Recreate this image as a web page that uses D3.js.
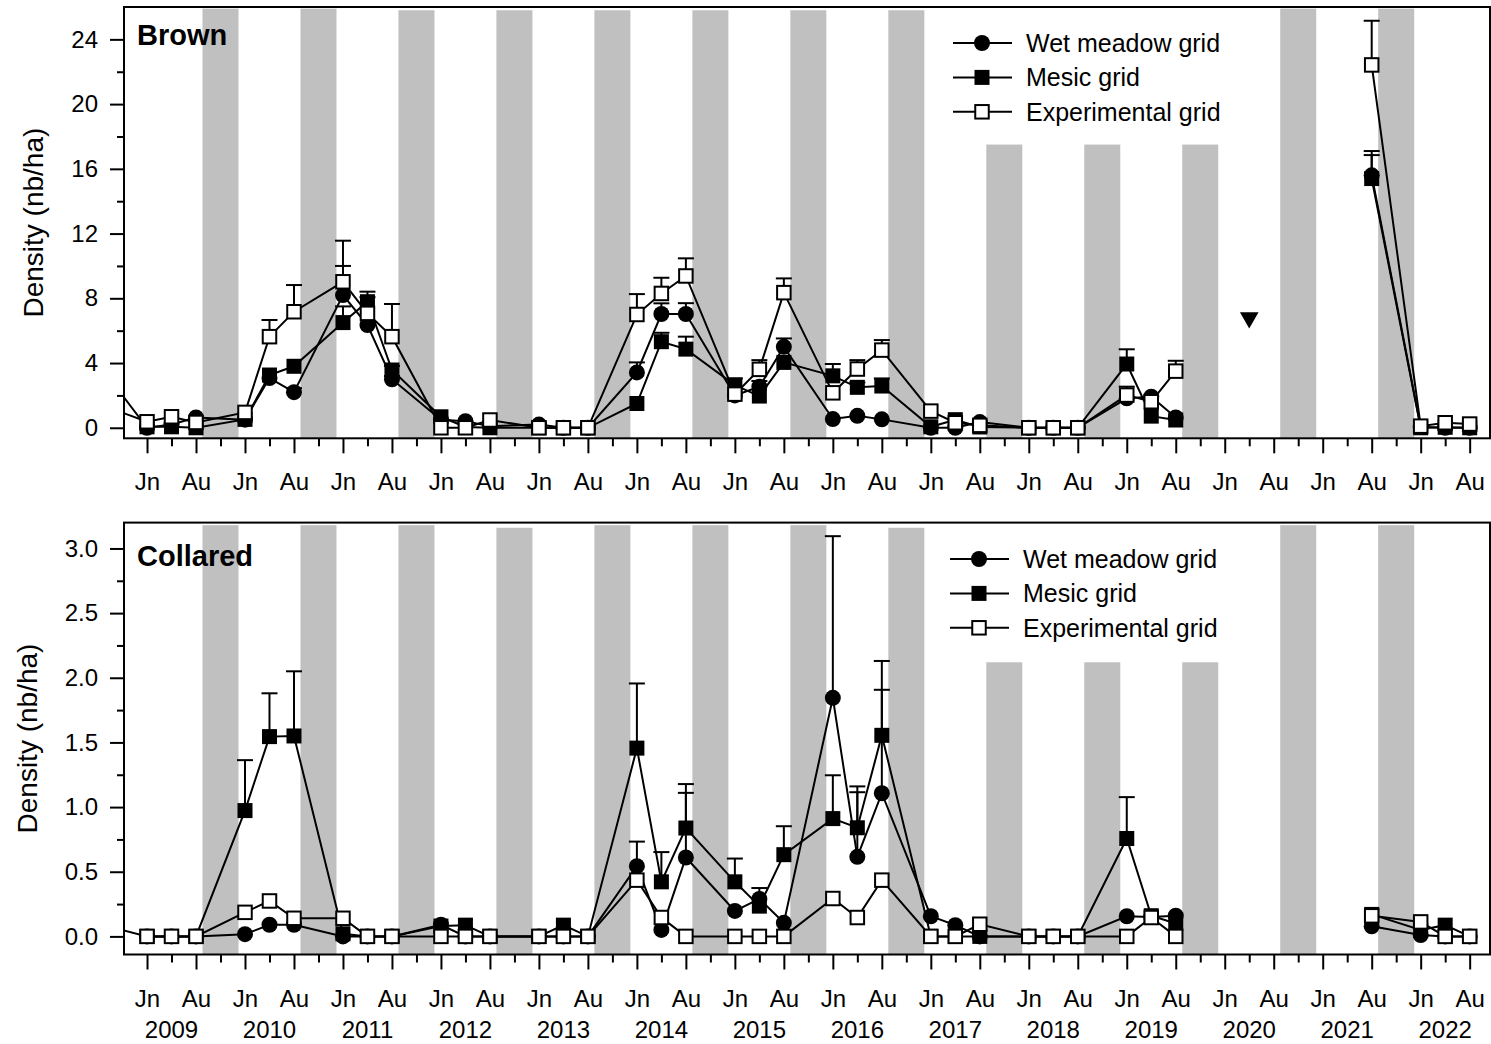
<!DOCTYPE html>
<html>
<head>
<meta charset="utf-8">
<script src="https://cdn.jsdelivr.net/npm/d3@7"></script>
<style>
body { margin: 0; background: #fff; }
text { font-family: "Liberation Sans", Arial, sans-serif; }
</style>
</head>
<body>
<svg id="chart" width="1491" height="1044"></svg>
<script>
// sampling sessions, year + month code (Jn, Jl, Au, W = winter)
var monthCodes = ["Jn", "Jl", "Au", "W"];
var years = d3.range(2009, 2023);
var sessions = [
    "2008-W",
    "2009-Jn", "2009-Jl", "2009-Au",
    "2010-Jn", "2010-Jl", "2010-Au",
    "2011-Jn", "2011-Jl", "2011-Au",
    "2012-Jn", "2012-Jl", "2012-Au",
    "2013-Jn", "2013-Jl", "2013-Au",
    "2014-Jn", "2014-Jl", "2014-Au",
    "2015-Jn", "2015-Jl", "2015-Au",
    "2016-Jn", "2016-Jl", "2016-Au",
    "2017-Jn", "2017-Jl", "2017-Au",
    "2018-Jn", "2018-Jl", "2018-Au",
    "2019-Jn", "2019-Jl", "2019-Au",
    "2020-Jl",
    "2021-Au",
    "2022-Jn", "2022-Jl", "2022-Au"
];
var seriesNames = ["Wet meadow grid", "Mesic grid", "Experimental grid"];
var seriesMarks = ["circle", "filled", "open"];

// winters shown as grey bars (winter after the given summer)
var bandWinters = d3.range(2009, 2022);
var brownBandTops = [25.9, 25.9, 25.8, 25.8, 25.8, 25.8, 25.8, 25.8, 17.5, 17.5, 17.5, 25.9, 25.9];
var collaredBandTops = [3.18, 3.18, 3.18, 3.16, 3.18, 3.18, 3.18, 3.16, 2.12, 2.12, 2.12, 3.18, 3.18];

// Brown lemming density (nb/ha)
var brownWet = [2.0,
    0.0, 0.2, 0.64,   0.5, 3.07, 2.2,   8.2, 6.35, 3.0,   0.5, 0.41, 0.1,
    0.2, 0.0, 0.0,    3.42, 7.03, 7.03, 2.0, 2.54, 5.0,   0.54, 0.74, 0.52,
    0.0, 0.0, 0.35,   0.0, 0.0, 0.0,    1.82, 1.92, 0.64,
    null, 15.6,       0.05, 0.0, 0.0];
var brownMesic = [null,
    0.06, 0.06, 0.0,  0.52, 3.26, 3.8,  6.5, 7.79, 3.57,  0.68, 0.05, 0.0,
    0.0, 0.0, 0.0,    1.5, 5.32, 4.86,  2.64, 1.96, 4.04, 3.21, 2.5, 2.58,
    0.06, 0.5, 0.05,  0.0, 0.0, 0.0,    3.94, 0.72, 0.48,
    null, 15.4,       0.0, 0.03, 0.0];
var brownExp = [0.93,
    0.37, 0.68, 0.33, 0.95, 5.63, 7.17, 9.02, 7.07, 5.63, 0.0, 0.0, 0.48,
    0.0, 0.0, 0.0,    7.0, 8.3, 9.38,   2.08, 3.61, 8.35, 2.16, 3.63, 4.8,
    1.03, 0.31, 0.15, 0.0, 0.0, 0.0,    2.02, 1.61, 3.5,
    null, 22.42,      0.1, 0.31, 0.23];
var brownWetSE = [["2010-Au", 0.25], ["2011-Jn", 1.8], ["2011-Au", 0.2], ["2014-Jn", 0.62],
    ["2014-Jl", 0.66], ["2014-Au", 0.67], ["2015-Jl", 0.35], ["2015-Au", 0.52], ["2021-Au", 1.5]];
var brownMesicSE = [["2011-Jn", 1.0], ["2011-Jl", 0.62], ["2011-Au", 0.25], ["2014-Jl", 0.55],
    ["2014-Au", 0.77], ["2015-Jn", 0.41], ["2016-Jn", 0.73], ["2016-Jl", 0.3], ["2016-Au", 0.47],
    ["2019-Jn", 0.91], ["2021-Au", 1.45]];
var brownExpSE = [["2010-Jl", 1.03], ["2010-Au", 1.65], ["2011-Jn", 2.54], ["2011-Jl", 1.0],
    ["2011-Au", 2.02], ["2014-Jn", 1.26], ["2014-Jl", 0.97], ["2014-Au", 1.09], ["2015-Jl", 0.57],
    ["2015-Au", 0.88], ["2016-Jl", 0.55], ["2016-Au", 0.62], ["2019-Jn", 0.52], ["2019-Au", 0.64],
    ["2021-Au", 2.73]];
var brownNoteSession = "2020-Jl", brownNoteValue = 6.8;

// Collared lemming density (nb/ha)
var collaredWet = [0.048,
    0, 0, 0,          0.017, 0.09, 0.09, 0.0, 0, 0,      0.09, 0.0, 0,
    0, 0, 0,          0.543, 0.05, 0.61, 0.197, 0.29, 0.105, 1.845, 0.615, 1.107,
    0.156, 0.087, 0.0, 0, 0, 0,         0.156, 0.15, 0.16,
    null, 0.078,      0.01, 0.0, 0.0];
var collaredMesic = [null,
    0, 0, 0,          0.973, 1.545, 1.55, 0.02, 0, 0,    0.08, 0.087, 0,
    0, 0.087, 0,      1.456, 0.422, 0.838, 0.422, 0.234, 0.632, 0.911, 0.84, 1.555,
    0, 0, 0,          0, 0, 0,          0.757, 0.16, 0.1,
    null, 0.17,       0.05, 0.087, 0];
var collaredExp = [null,
    0, 0, 0,          0.186, 0.274, 0.14, 0.14, 0, 0,    0, 0, 0,
    0, 0, 0,          0.435, 0.146, 0,  0, 0, 0,         0.293, 0.146, 0.435,
    0, 0, 0.094,      0, 0, 0,          0, 0.146, 0,
    null, 0.159,      0.112, 0, 0];
var collaredWetSE = [["2014-Jn", 0.19], ["2014-Au", 0.5], ["2016-Jn", 1.25], ["2016-Jl", 0.5], ["2016-Au", 0.8]];
var collaredMesicSE = [["2010-Jn", 0.39], ["2010-Jl", 0.335], ["2010-Au", 0.5], ["2014-Jn", 0.5],
    ["2014-Jl", 0.23], ["2014-Au", 0.34], ["2015-Jn", 0.18], ["2015-Jl", 0.14], ["2015-Au", 0.22],
    ["2016-Jn", 0.335], ["2016-Jl", 0.32], ["2016-Au", 0.575], ["2019-Jn", 0.32]];
var collaredExpSE = [];

var brownTicks = [0, 4, 8, 12, 16, 20, 24];
var brownMinor = [2, 6, 10, 14, 18, 22];
var collaredTicks = [0, 0.5, 1.0, 1.5, 2.0, 2.5, 3.0];
var collaredMinor = [0.25, 0.75, 1.25, 1.75, 2.25, 2.75];

function slotOf(code) {
    /* Position of a session on the x axis: 4 slots per year. */
    var p = code.split("-");
    return (+p[0] - 2009) * 4 + monthCodes.indexOf(p[1]);
}

var svg = d3.select("#chart");
var x = d3.scaleLinear().domain([-0.94, 54.83]).range([124, 1490]);
var left = 124, right = 1490;

function drawMarker(sel, kind) {
    if (kind === "circle") {
        sel.append("circle").attr("r", 8).attr("fill", "#000");
    } else if (kind === "filled") {
        sel.append("rect").attr("x", -7.5).attr("y", -7.5).attr("width", 15).attr("height", 15).attr("fill", "#000");
    } else {
        sel.append("rect").attr("x", -6.75).attr("y", -6.75).attr("width", 13.5).attr("height", 13.5)
            .attr("fill", "#fff").attr("stroke", "#000").attr("stroke-width", 2);
    }
}

function drawPanel(p) {
    var y = d3.scaleLinear().domain(p.yDomain).range([p.bottom, p.top]);
    var g = svg.append("g");

    g.append("clipPath").attr("id", "clip-" + p.id)
        .append("rect").attr("x", left).attr("y", p.top).attr("width", right - left).attr("height", p.bottom - p.top);

    // winter bars
    g.selectAll(".band").data(p.bandTops).enter()
        .append("rect")
        .attr("class", "band")
        .attr("x", function(d, i) { return x((bandWinters[i] - 2009) * 4 + 3 - 0.735); })
        .attr("width", function(d, i) { var s = (bandWinters[i] - 2009) * 4 + 3; return x(s + 0.735) - x(s - 0.735); })
        .attr("y", function(d) { return y(d); })
        .attr("height", function(d) { return p.bottom - y(d); })
        .attr("fill", "#c0c0c0");

    var allPts = p.values.map(function(vals) {
        return sessions.map(function(c, i) { return {code: c, s: slotOf(c), v: vals[i]}; });
    });

    var line = d3.line()
        .defined(function(d) { return d.v !== null; })
        .x(function(d) { return x(d.s); })
        .y(function(d) { return y(d.v); });

    allPts.forEach(function(pts) {
        g.append("path").datum(pts)
            .attr("d", line)
            .attr("fill", "none")
            .attr("stroke", "#000")
            .attr("stroke-width", 2)
            .attr("clip-path", "url(#clip-" + p.id + ")");
    });

    allPts.forEach(function(pts, k) {
        var valueOf = {};
        pts.forEach(function(d) { valueOf[d.code] = d.v; });
        var errs = p.se[k].map(function(e) { return {s: slotOf(e[0]), v: valueOf[e[0]], top: valueOf[e[0]] + e[1]}; });
        var eg = g.selectAll(".err" + k).data(errs).enter().append("g").attr("class", "err" + k);
        eg.append("line")
            .attr("x1", function(d) { return x(d.s); }).attr("x2", function(d) { return x(d.s); })
            .attr("y1", function(d) { return y(d.v); }).attr("y2", function(d) { return y(d.top); })
            .attr("stroke", "#000").attr("stroke-width", 2);
        eg.append("line")
            .attr("x1", function(d) { return x(d.s) - 8; }).attr("x2", function(d) { return x(d.s) + 8; })
            .attr("y1", function(d) { return y(d.top); }).attr("y2", function(d) { return y(d.top); })
            .attr("stroke", "#000").attr("stroke-width", 2);

        var mg = g.selectAll(".mark" + k)
            .data(pts.filter(function(d) { return d.v !== null && d.s >= 0; }))
            .enter().append("g")
            .attr("class", "mark" + k)
            .attr("transform", function(d) { return "translate(" + x(d.s) + "," + y(d.v) + ")"; });
        drawMarker(mg, seriesMarks[k]);
    });

    if (p.note) {
        g.append("path")
            .attr("d", d3.symbol(d3.symbolTriangle, 150))
            .attr("transform", "translate(" + x(slotOf(p.note[0])) + "," + y(p.note[1]) + ") rotate(180)")
            .attr("fill", "#000");
    }

    // frame
    g.append("rect").attr("x", left).attr("y", p.top).attr("width", right - left).attr("height", p.bottom - p.top)
        .attr("fill", "none").attr("stroke", "#000").attr("stroke-width", 2);

    // y axis
    var ya = g.append("g").attr("transform", "translate(" + left + ",0)")
        .call(d3.axisLeft(y).tickValues(p.yTicks).tickSize(14).tickPadding(12).tickFormat(p.yFormat));
    var ym = g.append("g").attr("transform", "translate(" + left + ",0)")
        .call(d3.axisLeft(y).tickValues(p.yMinor).tickSize(7).tickFormat(""));

    // x axis
    var majorSlots = [], minorSlots = [];
    years.forEach(function(yr) {
        var b = (yr - 2009) * 4;
        majorSlots.push(b, b + 2);
        minorSlots.push(b + 1);
        if (yr < 2022) minorSlots.push(b + 3);
    });
    var xa = g.append("g").attr("transform", "translate(0," + p.bottom + ")")
        .call(d3.axisBottom(x).tickValues(majorSlots).tickSize(15).tickPadding(20)
            .tickFormat(function(s) { return monthCodes[s % 4]; }));
    var xm = g.append("g").attr("transform", "translate(0," + p.bottom + ")")
        .call(d3.axisBottom(x).tickValues(minorSlots).tickSize(8).tickFormat(""));

    [ya, ym, xa, xm].forEach(function(a) {
        a.select(".domain").remove();
        a.selectAll("line").attr("stroke-width", 2);
        a.attr("font-size", 24).attr("font-family", null);
    });

    if (p.showYears) {
        g.selectAll(".year").data(years).enter()
            .append("text")
            .attr("x", function(yr) { return x((yr - 2009) * 4 + 1); })
            .attr("y", p.bottom + 66)
            .attr("dy", "0.71em")
            .attr("text-anchor", "middle")
            .attr("font-size", 24)
            .text(function(yr) { return yr; });
    }

    g.append("text")
        .attr("transform", "translate(" + p.titleX + "," + (p.top + p.bottom) / 2 + ") rotate(-90)")
        .attr("text-anchor", "middle")
        .attr("dy", "0.35em")
        .attr("font-size", 28)
        .text("Density (nb/ha)");

    g.append("text")
        .attr("x", 137).attr("y", p.labelY)
        .attr("font-size", 29).attr("font-weight", "bold")
        .text(p.label);

    // legend
    seriesNames.forEach(function(name, k) {
        var ly = p.legend.y + k * 34.4;
        g.append("line").attr("x1", p.legend.x).attr("x2", p.legend.x + 59)
            .attr("y1", ly).attr("y2", ly).attr("stroke", "#000").attr("stroke-width", 2);
        drawMarker(g.append("g").attr("transform", "translate(" + (p.legend.x + 29) + "," + ly + ")"), seriesMarks[k]);
        g.append("text").attr("x", p.legend.x + 73).attr("y", ly).attr("dy", "0.35em")
            .attr("font-size", 25).text(name);
    });
}

drawPanel({
    id: "brown", top: 7, bottom: 438.3, yDomain: [-0.65, 26],
    yTicks: brownTicks, yMinor: brownMinor, yFormat: d3.format("d"),
    values: [brownWet, brownMesic, brownExp], se: [brownWetSE, brownMesicSE, brownExpSE],
    bandTops: brownBandTops, note: [brownNoteSession, brownNoteValue],
    label: "Brown", labelY: 45, titleX: 33, legend: {x: 953, y: 43}, showYears: false
});
drawPanel({
    id: "collared", top: 522.6, bottom: 954.5, yDomain: [-0.14, 3.2],
    yTicks: collaredTicks, yMinor: collaredMinor, yFormat: d3.format(".1f"),
    values: [collaredWet, collaredMesic, collaredExp], se: [collaredWetSE, collaredMesicSE, collaredExpSE],
    bandTops: collaredBandTops, note: null,
    label: "Collared", labelY: 566, titleX: 27, legend: {x: 950, y: 559}, showYears: true
});
</script>
</body>
</html>
